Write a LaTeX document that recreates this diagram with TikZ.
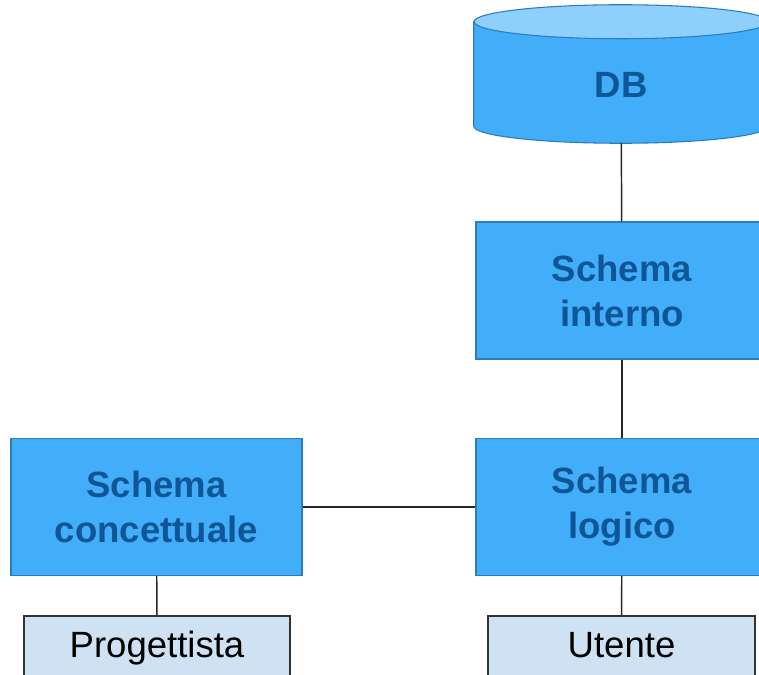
\documentclass[tikz,border=0pt]{standalone}
\usepackage{fontspec}
\setmainfont{Liberation Sans}
\usetikzlibrary{calc}

\definecolor{boxblue}{HTML}{42ADF9}
\definecolor{boxtop}{HTML}{8FCFFB}
\definecolor{boxline}{HTML}{2B7BBF}
\definecolor{boxtext}{HTML}{0F5696}
\definecolor{userfill}{HTML}{CFE2F3}
\definecolor{userline}{HTML}{333333}

\def\pxsize{0.75pt}

\begin{document}
\begin{tikzpicture}[x=\pxsize,y=-\pxsize]
	\tikzstyle{every node}=[font=\fontsize{27.4}{33.75}\selectfont]
	\tikzstyle{schema}=[rectangle, draw=boxline, line width=0.8pt, fill=boxblue, text=boxtext, font=\fontsize{27.4}{33.75}\selectfont\bfseries, align=center, minimum width=292*\pxsize, minimum height=137*\pxsize]
	\tikzstyle{db}=[rectangle, inner sep=0pt, minimum width=294*\pxsize, minimum height=138*\pxsize]
	\tikzstyle{dbbody}=[draw=boxline, line width=0.8pt, fill=boxblue]
	\tikzstyle{dbtop}=[draw=boxline, line width=0.8pt, fill=boxtop]
	\tikzstyle{dblabel}=[text=boxtext, font=\fontsize{27.4}{33.75}\selectfont\bfseries]
	\tikzstyle{user}=[rectangle, draw=userline, line width=1.1pt, fill=userfill, text height=20pt, text depth=5.8pt, minimum height=65*\pxsize]
	\tikzstyle{link}=[draw=black!85, line width=1.1pt]

	\useasboundingbox (0,0) rectangle (759,674);
	\clip (0,0) rectangle (759,674);

	% Database drawn as a cylinder round the db node
	\node[db] (db) at (621,74) {};
	\filldraw[dbbody] ($(db.north west)+(0,17)$) -- ($(db.south west)+(0,-17)$)
		arc[start angle=180, end angle=0, x radius=147, y radius=17]
		-- ($(db.north east)+(0,17)$) -- cycle;
	\filldraw[dbtop] ($(db.north)+(0,17)$) ellipse[x radius=147, y radius=17];
	\node[dblabel] (dbtext) at (621,85) {DB};

	% Schema levels
	\node[schema] (interno) at (622,290.5) {Schema\\interno};
	\node[schema] (logico) at (622,507) {Schema\\logico};
	\node[schema, minimum width=291*\pxsize] (concettuale) at (156.5,507) {Schema\\concettuale};

	% Users
	\node[user, minimum width=266*\pxsize] (progettista) at (157,648.5) {Progettista};
	\node[user, minimum width=267*\pxsize] (utente) at (621.5,648.5) {Utente};

	% Connect the levels
	\draw[link] (db) -- (interno);
	\draw[link] (interno) -- (logico);
	\draw[link] (concettuale) -- (logico);
	\draw[link] (concettuale) -- (progettista);
	\draw[link] (logico) -- (utente);

\end{tikzpicture}
\end{document}
